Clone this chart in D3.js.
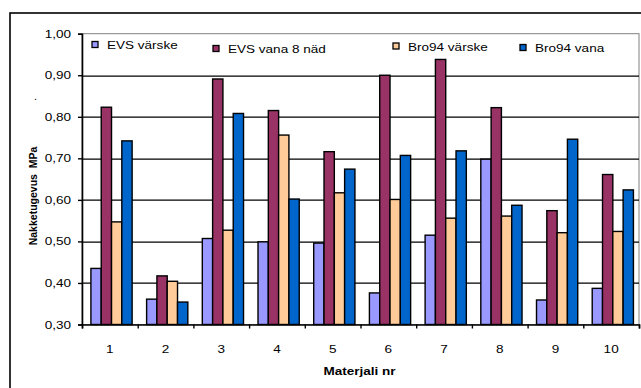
<!DOCTYPE html>
<html>
<head>
<meta charset="utf-8">
<script src="https://cdn.jsdelivr.net/npm/d3@7"></script>
<style>
  body { margin: 0; background: #fff; }
  svg { display: block; font-family: "Liberation Sans", Arial, sans-serif; }
  .axis path, .axis line { stroke: #000; }
  .axis text { font-size: 11px; fill: #000; }
</style>
</head>
<body>
<svg id="chart" width="641" height="388"></svg>
<script>
(function() {

	// DATA
	var categories = ['1', '2', '3', '4', '5', '6', '7', '8', '9', '10'];
	var seriesNames = ['EVS värske', 'EVS vana 8 näd', 'Bro94 värske', 'Bro94 vana'];
	var evsFresh = [0.435, 0.361, 0.507, 0.499, 0.496, 0.376, 0.515, 0.698, 0.359, 0.387];
	var evsAged  = [0.823, 0.417, 0.891, 0.815, 0.716, 0.900, 0.938, 0.822, 0.574, 0.661];
	var broFresh = [0.547, 0.404, 0.527, 0.756, 0.617, 0.601, 0.556, 0.561, 0.521, 0.524];
	var broAged  = [0.742, 0.354, 0.808, 0.602, 0.674, 0.707, 0.718, 0.587, 0.746, 0.624];
	var yTicks = [0.30, 0.40, 0.50, 0.60, 0.70, 0.80, 0.90, 1.00];
	var yLabel = 'Nakketugevus  MPa';
	var xLabel = 'Materjali nr';

	// STYLE / LAYOUT
	var colors = ['#9999FF', '#993366', '#FFCC99', '#0066CC'];
	var stretch = 1.23; // text is stretched wider than tall in the source
	var margin = { top: 33.7, left: 82, right: 2, bottom: 63.5 };
	var svgW = 641, svgH = 388;
	var width = svgW - margin.left - margin.right;
	var height = svgH - margin.top - margin.bottom;
	var legendX = [92, 213, 393, 520];
	var legendY = [45, 49, 46.5, 48];

	var table = categories.map(function(c, i) {
		return { cat: c, values: [evsFresh[i], evsAged[i], broFresh[i], broAged[i]] };
	});

	var svg = d3.select('#chart');

	// outer frame
	svg.append('rect')
		.attr('x', 10).attr('y', 13)
		.attr('width', 660).attr('height', 400)
		.attr('fill', '#fff')
		.attr('stroke', '#000')
		.attr('stroke-width', 1.6);

	var g = svg.append('g')
		.attr('transform', 'translate(' + margin.left + ',' + margin.top + ')');

	// SCALES
	var x0 = d3.scaleBand().domain(categories).range([0, width]);
	var b = x0.bandwidth();
	var groupOffset = b * 0.16;
	var x1 = d3.scaleBand().domain(d3.range(seriesNames.length)).range([0, b * 0.74]);
	var xEdge = d3.scaleLinear().domain([0, categories.length]).range([0, width]);
	var y = d3.scaleLinear().domain([0.3, 1.0]).range([height, 0]);

	// plot area
	g.append('rect')
		.attr('width', width).attr('height', height)
		.attr('fill', '#fff')
		.attr('stroke', '#808080')
		.attr('stroke-width', 1);

	// gridlines
	g.append('g').selectAll('line')
		.data(yTicks.slice(1, -1))
		.enter().append('line')
		.attr('x1', 0).attr('x2', width)
		.attr('y1', function(d) { return Math.round(y(d)) + 0.5; })
		.attr('y2', function(d) { return Math.round(y(d)) + 0.5; })
		.attr('stroke', '#000')
		.attr('stroke-width', 1.2);

	// bars
	var groups = g.append('g').selectAll('g')
		.data(table)
		.enter().append('g')
		.attr('transform', function(d) { return 'translate(' + (x0(d.cat) + groupOffset) + ',0)'; });

	groups.selectAll('rect')
		.data(function(d) { return d.values; })
		.enter().append('rect')
		.attr('x', function(d, i) { return x1(i); })
		.attr('y', function(d) { return y(d); })
		.attr('width', x1.bandwidth())
		.attr('height', function(d) { return height - y(d); })
		.attr('fill', function(d, i) { return colors[i]; })
		.attr('stroke', '#000')
		.attr('stroke-width', 1.4);

	// AXES
	var axisY = d3.axisLeft(y)
		.tickValues(yTicks)
		.tickSize(4)
		.tickPadding(7)
		.tickFormat(function(d) { return d.toFixed(2).replace('.', ','); });

	var gy = g.append('g').attr('class', 'axis axis--y').call(axisY);
	gy.select('.domain').attr('stroke-width', 1.6);
	gy.selectAll('.tick line').attr('stroke-width', 1.4);
	gy.selectAll('.tick text')
		.attr('x', null)
		.attr('transform', 'translate(-11,0) scale(' + stretch + ',1)');

	var gxTicks = g.append('g').attr('class', 'axis')
		.attr('transform', 'translate(0,' + height + ')')
		.call(d3.axisBottom(xEdge).tickValues(d3.range(categories.length + 1)).tickSize(4).tickFormat(''));
	gxTicks.select('.domain').attr('stroke-width', 1.6);
	gxTicks.selectAll('.tick line').attr('stroke-width', 1.4);

	var gx = g.append('g').attr('class', 'axis axis--x')
		.attr('transform', 'translate(0,' + height + ')')
		.call(d3.axisBottom(x0).tickSize(0).tickPadding(21));
	gx.select('.domain').remove();
	gx.selectAll('.tick text')
		.attr('transform', 'scale(' + stretch + ',1)');

	// axis titles
	svg.append('text')
		.attr('transform', 'translate(' + (margin.left + width / 2 - 1) + ',375) scale(' + stretch + ',1)')
		.attr('text-anchor', 'middle')
		.style('font-size', '11px')
		.style('font-weight', 'bold')
		.text(xLabel);

	svg.append('text')
		.attr('transform', 'translate(37,196) rotate(-90)')
		.attr('text-anchor', 'middle')
		.style('font-size', '10.5px')
		.style('font-weight', 'bold')
		.style('white-space', 'pre')
		.text(yLabel);

	svg.append('text')
		.attr('x', 34).attr('y', 100)
		.style('font-size', '11px')
		.text('.');

	// LEGEND
	var legend = svg.append('g').selectAll('g')
		.data(seriesNames)
		.enter().append('g')
		.attr('transform', function(d, i) { return 'translate(' + legendX[i] + ',' + legendY[i] + ')'; });

	legend.append('rect')
		.attr('x', 0).attr('y', -3.5)
		.attr('width', 6).attr('height', 6)
		.attr('fill', function(d, i) { return colors[i]; })
		.attr('stroke', '#000')
		.attr('stroke-width', 1.3);

	legend.append('text')
		.attr('transform', 'translate(15,4) scale(' + stretch + ',1)')
		.style('font-size', '11px')
		.text(function(d) { return d; });

})();
</script>
</body>
</html>
